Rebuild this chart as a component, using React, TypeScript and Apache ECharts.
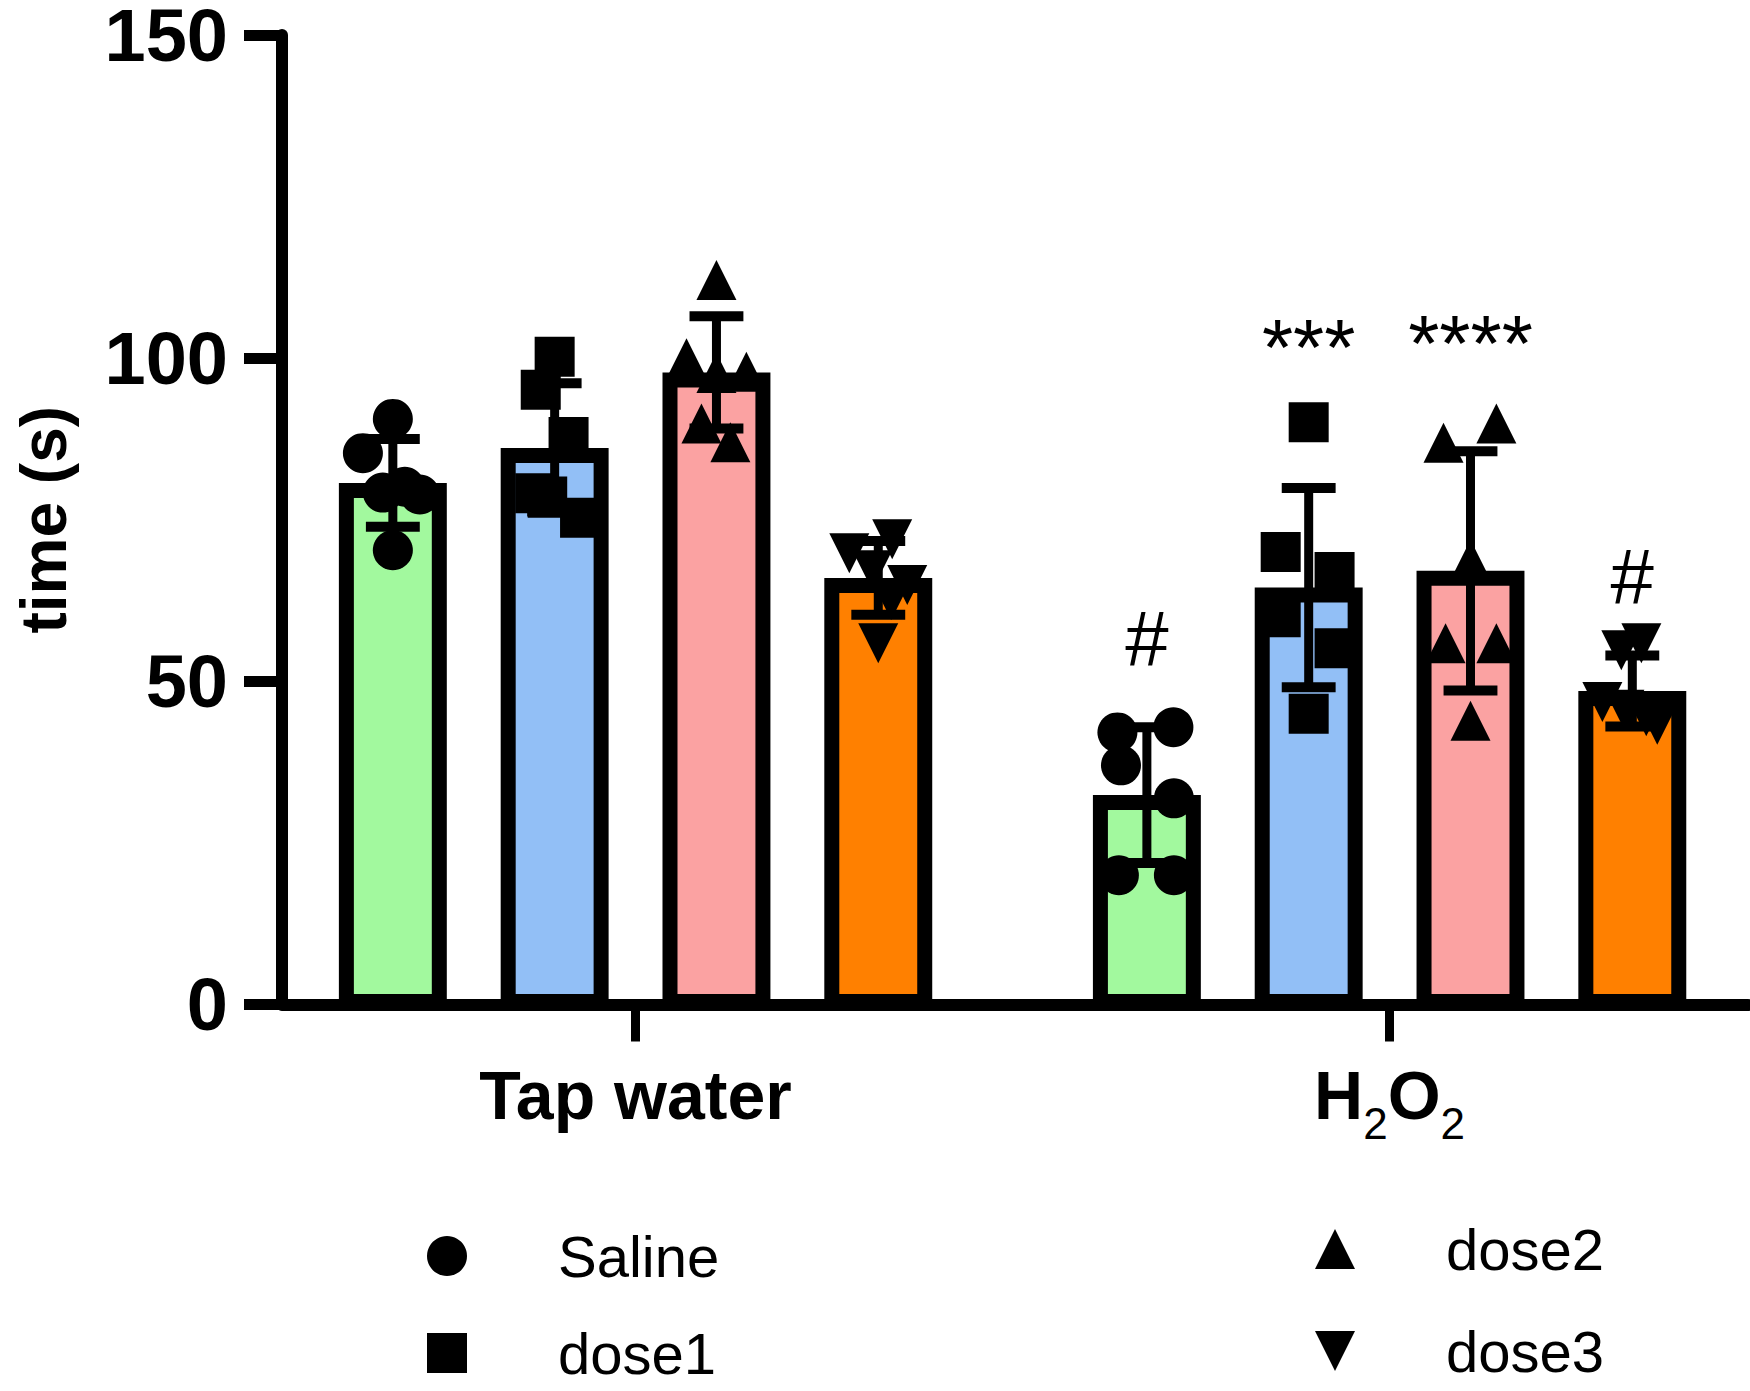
import React, { useEffect, useRef } from 'react';
import * as echarts from 'echarts';

// ---------- data ----------
const groups = ['Tap water', 'H2O2'];
const groupLabels = ['{b|Tap water}', '{b|H}{s|2}{b|O}{s|2}'];
const doses = ['Saline', 'dose1', 'dose2', 'dose3'];
// x positions (in bar-slot units) of the two group centres
const groupCenters = [2.185, 6.845];

const tapMeans = [80.7, 86.1, 97.8, 66.0];
const h2o2Means = [32.4, 64.5, 67.1, 48.5];
const tapSD = [6.8, 10.0, 8.7, 5.7];
const h2o2SD = [10.5, 15.4, 18.5, 5.5];

// individual points: [horizontal jitter in slot units, value]
const tapSaline = [[0, 90.6], [-0.185, 85.3], [-0.062, 79.2], [0.074, 80.1], [0.167, 78.9], [0, 70.3]];
const tapDose1 = [[0, 100.2], [-0.086, 95.1], [0.086, 87.8], [-0.12, 79.1], [-0.046, 78.6], [0.157, 75.3]];
const tapDose2 = [[0, 112.1], [-0.185, 100.0], [0, 97.7], [0.185, 97.9], [-0.093, 89.9], [0.086, 87.0]];
const tapDose3 = [[0, 55.9], [0.086, 72.0], [-0.179, 69.8], [-0.037, 67.2], [0.179, 64.9], [0.08, 62.6]];
const h2o2Saline = [[-0.182, 42.1], [0.164, 42.9], [-0.16, 37.0], [0.167, 31.9], [-0.173, 20.0], [0.167, 20.0]];
const h2o2Dose1 = [[0, 90.1], [-0.173, 70.0], [0.16, 66.9], [-0.173, 59.9], [0.16, 55.1], [0, 45.0]];
const h2o2Dose2 = [[-0.167, 86.9], [0.16, 89.9], [0, 68.8], [-0.154, 55.9], [0.16, 55.9], [0, 43.9]];
const h2o2Dose3 = [[0.056, 55.9], [-0.068, 54.8], [-0.185, 46.8], [-0.049, 45.6], [0.086, 44.6], [0.154, 43.3]];

// significance marks: group index, dose index, y position, text
const annotGroup = [1, 1, 1, 1];
const annotDose = [0, 1, 2, 3];
const annotY = [56.5, 101.6, 102.3, 66.2];
const annotText = ['#', '***', '****', '#'];

const yTicks = { min: 0, max: 150, interval: 50 };

// ---------- styling ----------
const FONT = '"Liberation Sans", Arial, Helvetica, sans-serif';
const barColors = ['#a2f99e', '#92bff6', '#fba2a2', '#ff8000'];
const symbols = ['circle', 'rect', 'triangle', 'path://M0,0L2,0L1,2Z'];
const BAR_W = 0.667;
const CAP_W = 0.333;
const BORDER = 15;

const means = [tapMeans, h2o2Means];
const sds = [tapSD, h2o2SD];
const points = [
  [tapSaline, tapDose1, tapDose2, tapDose3],
  [h2o2Saline, h2o2Dose1, h2o2Dose2, h2o2Dose3],
];

const barX = (gi: number, di: number) => groupCenters[gi] + (di - 1.5);

function legendBlock(names: string[], icons: string[], left: number, top: number, gap: number) {
  return {
    data: names.map((n, i) => ({ name: n, icon: icons[i] })),
    orient: 'vertical',
    left,
    top,
    height: 300,
    padding: 0,
    itemWidth: 40,
    itemHeight: 40,
    itemGap: gap,
    selectedMode: false,
    textStyle: { fontFamily: FONT, fontSize: 58, color: '#000', lineHeight: 40, height: 40, padding: [0, 0, 0, 86] },
  };
}

function buildOption() {
  const barData: number[][] = [];
  const errData: number[][] = [];
  groups.forEach((_, gi) => {
    doses.forEach((_, di) => {
      const x = barX(gi, di);
      const m = means[gi][di];
      const s = sds[gi][di];
      barData.push([x, m, di]);
      errData.push([x, m - s, m + s]);
    });
  });

  const scatterSeries = doses.map((d, di) => ({
    type: 'scatter',
    name: d,
    symbol: symbols[di],
    symbolSize: 40,
    itemStyle: { color: '#000', opacity: 1 },
    z: 5,
    silent: true,
    data: groups.flatMap((_, gi) =>
      points[gi][di].map(([dx, v]) => [barX(gi, di) + dx, v])
    ),
  }));

  const annotData = annotText.map((_, i) => [barX(annotGroup[i], annotDose[i]), annotY[i]]);

  return {
    animation: false,
    backgroundColor: '#fff',
    grid: { left: 282, right: 2, top: 35, bottom: 386.5, outerBoundsMode: 'none', containLabel: false },
    xAxis: {
      type: 'value',
      min: 0,
      max: 9.06,
      splitLine: { show: false },
      axisLine: { show: true, onZero: false, lineStyle: { color: '#000', width: 12 } },
      axisTick: {
        show: true,
        customValues: groupCenters,
        length: 37,
        lineStyle: { color: '#000', width: 9 },
      },
      axisLabel: {
        show: true,
        customValues: groupCenters,
        formatter: (v: number) => {
          let best = 0;
          groupCenters.forEach((c, i) => {
            if (Math.abs(c - v) < Math.abs(groupCenters[best] - v)) best = i;
          });
          return groupLabels[best];
        },
        margin: 56,
        verticalAlign: 'top',
        color: '#000',
        fontFamily: FONT,
        fontSize: 68,
        fontWeight: 'bold',
        rich: {
          b: { fontFamily: FONT, fontSize: 68, fontWeight: 'bold', color: '#000', lineHeight: 68, verticalAlign: 'top' },
          s: { fontFamily: FONT, fontSize: 44, fontWeight: 'normal', color: '#000', lineHeight: 85, verticalAlign: 'bottom' },
        },
      },
    },
    yAxis: {
      type: 'value',
      min: yTicks.min,
      max: yTicks.max,
      interval: yTicks.interval,
      name: 'time (s)',
      nameLocation: 'middle',
      nameRotate: 90,
      nameGap: 206,
      nameTextStyle: { fontFamily: FONT, fontSize: 64, fontWeight: 'bold', color: '#000' },
      splitLine: { show: false },
      axisLine: { show: true, onZero: false, lineStyle: { color: '#000', width: 12 } },
      axisTick: { show: true, length: 38, lineStyle: { color: '#000', width: 11 } },
      axisLabel: { margin: 54, fontFamily: FONT, fontSize: 74, fontWeight: 'bold', color: '#000', lineHeight: 58 },
    },
    legend: [
      legendBlock(['Saline', 'dose1'], [symbols[0], symbols[1]], 427, 1227, 39),
      legendBlock(['dose2', 'dose3'], [symbols[2], symbols[3]], 1315, 1220, 44),
    ],
    series: [
      {
        type: 'custom',
        name: 'bars',
        z: 2,
        silent: true,
        data: barData,
        renderItem: (params: any, api: any) => {
          const x = api.value(0);
          const y = api.value(1);
          const ci = api.value(2);
          const p1 = api.coord([x - BAR_W / 2, y]);
          const p2 = api.coord([x + BAR_W / 2, 0]);
          const b = BORDER;
          return {
            type: 'rect',
            shape: {
              x: p1[0] + b / 2,
              y: p1[1] + b / 2,
              width: p2[0] - p1[0] - b,
              height: p2[1] - p1[1] - b / 2 - 3,
            },
            style: { fill: barColors[ci], stroke: '#000', lineWidth: b },
          };
        },
      },
      {
        type: 'custom',
        name: 'sd',
        z: 3,
        silent: true,
        data: errData,
        renderItem: (params: any, api: any) => {
          const x = api.value(0);
          const lo = api.coord([x, api.value(1)]);
          const hi = api.coord([x, api.value(2)]);
          const cl = api.coord([x - CAP_W / 2, api.value(2)]);
          const cr = api.coord([x + CAP_W / 2, api.value(2)]);
          const h = (cr[0] - cl[0]) / 2;
          return {
            type: 'group',
            children: [
              { type: 'line', shape: { x1: lo[0], y1: lo[1], x2: hi[0], y2: hi[1] }, style: { stroke: '#000', lineWidth: 9 } },
              { type: 'line', shape: { x1: lo[0] - h, y1: lo[1], x2: lo[0] + h, y2: lo[1] }, style: { stroke: '#000', lineWidth: 10 } },
              { type: 'line', shape: { x1: hi[0] - h, y1: hi[1], x2: hi[0] + h, y2: hi[1] }, style: { stroke: '#000', lineWidth: 10 } },
            ],
          };
        },
      },
      ...scatterSeries,
      {
        type: 'custom',
        name: 'marks',
        z: 6,
        silent: true,
        data: annotData,
        renderItem: (params: any, api: any) => {
          const p = api.coord([api.value(0), api.value(1)]);
          const t = annotText[params.dataIndex];
          return {
            type: 'text',
            x: p[0],
            y: p[1],
            style: {
              text: t,
              fontFamily: FONT,
              fontSize: t === '#' ? 78 : 80,
              fill: '#000',
              align: 'center',
              verticalAlign: 'middle',
            },
          };
        },
      },
    ],
  };
}

export default function App() {
  const ref = useRef<HTMLDivElement>(null);
  useEffect(() => {
    if (!ref.current) return;
    const chart = echarts.init(ref.current, undefined, { renderer: 'svg' });
    chart.setOption(buildOption() as any);
    return () => chart.dispose();
  }, []);
  return (
    <div
      ref={ref}
      style={{ position: 'absolute', left: 0, top: 0, width: 1750, height: 1391, background: '#fff' }}
    />
  );
}
